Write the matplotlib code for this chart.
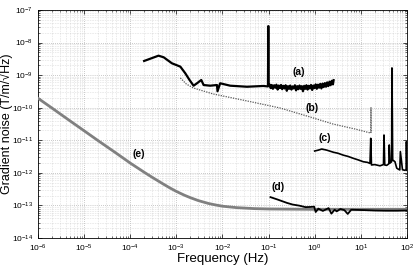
import matplotlib
matplotlib.use("Agg")
import matplotlib.pyplot as plt
from matplotlib.ticker import LogLocator, NullFormatter

plt.rcParams["font.family"] = ["Liberation Sans", "DejaVu Sans"]

# (a) measured noise, low frequency
freq_a = [2.0e-4, 4.1e-4, 5.3e-4, 8.0e-4, 1.22e-3, 1.56e-3, 1.93e-3, 2.36e-3,
          2.8e-3, 3.47e-3, 3.9e-3, 5.4e-3, 7.6e-3, 7.8e-3, 8.9e-3, 1.47e-2,
          3.4e-2, 7.7e-2, 0.097, 0.0985, 0.1,
          0.105, 0.111, 0.117, 0.124, 0.132, 0.140, 0.148, 0.157, 0.166, 0.176,
          0.186, 0.197, 0.209, 0.221, 0.234, 0.248, 0.263, 0.279, 0.295, 0.313,
          0.331, 0.351, 0.372, 0.394, 0.417, 0.442, 0.468, 0.495, 0.525, 0.556,
          0.589, 0.624, 0.661, 0.700, 0.741, 0.785, 0.832, 0.881, 0.933, 0.989,
          1.047, 1.109, 1.175, 1.245, 1.318, 1.396, 1.479, 1.567, 1.660, 1.758,
          1.862, 1.972, 2.089, 2.213, 2.344, 2.483, 2.57]
noise_a = [2.72e-9, 3.95e-9, 3.53e-9, 2.31e-9, 1.82e-9, 1.14e-9, 7.1e-10, 4.74e-10,
           5.62e-10, 7.1e-10, 4.97e-10, 4.74e-10, 4.97e-10, 3.2e-10, 5.62e-10, 4.74e-10,
           4.4e-10, 4.65e-10, 4.5e-10, 3.2e-8, 5.0e-10,
           5.2e-10, 4.0e-10, 5.0e-10, 3.8e-10, 4.9e-10, 4.1e-10, 5.1e-10, 3.6e-10, 4.8e-10, 4.0e-10,
           5.0e-10, 3.7e-10, 4.7e-10, 3.9e-10, 4.9e-10, 3.3e-10, 4.6e-10, 3.8e-10, 4.8e-10, 3.6e-10,
           4.5e-10, 3.9e-10, 4.9e-10, 3.4e-10, 4.6e-10, 3.7e-10, 4.8e-10, 3.8e-10, 4.6e-10, 3.2e-10,
           4.7e-10, 3.8e-10, 4.9e-10, 3.6e-10, 4.7e-10, 3.9e-10, 5.0e-10, 3.5e-10, 4.8e-10, 4.0e-10,
           5.2e-10, 3.8e-10, 5.1e-10, 4.1e-10, 5.4e-10, 3.9e-10, 5.5e-10, 4.3e-10, 5.7e-10, 4.4e-10,
           6.0e-10, 4.6e-10, 6.3e-10, 4.9e-10, 6.7e-10, 5.2e-10, 7.0e-10]

# (b) dotted curve
freq_b = [1.22e-3, 1.64e-3, 2.33e-3, 6.3e-3, 3.43e-2, 0.178, 0.79, 2.5, 7.5, 16.4, 16.6, 16.8]
noise_b = [8.2e-10, 5.35e-10, 4.03e-10, 2.64e-10, 1.61e-10, 9.8e-11, 5.2e-11, 3.16e-11,
           2.22e-11, 1.67e-11, 1.0e-10, 1.67e-11]

# (c) measured noise, high frequency
freq_c = [1.0, 1.2, 1.42, 1.82, 2.54, 3.2, 4.17, 5.3, 6.87, 8.8, 11.3, 14.0, 15.8,
          16.4, 17.0, 20.0, 26.0, 31.0, 31.8, 33.0, 36.3, 40.5, 41.3, 43.0, 46.5,
          47.3, 49.0, 55.0, 60.0, 65.0, 70.0, 72.0, 80.0, 90.0, 96.0, 97.5, 100.0]
noise_c = [4.7e-12, 5.0e-12, 5.4e-12, 5.0e-12, 4.3e-12, 4.0e-12, 3.5e-12, 3.2e-12, 2.8e-12,
           2.5e-12, 2.2e-12, 2.1e-12, 1.95e-12,
           1.15e-11, 1.75e-12, 1.8e-12, 1.65e-12, 1.8e-12, 1.45e-11, 1.75e-12, 1.7e-12, 1.9e-12,
           7.2e-12, 2.0e-12, 2.2e-12,
           1.66e-9, 2.5e-12, 2.2e-12, 1.4e-12, 1.3e-12, 1.23e-12, 4.5e-12, 1.25e-12, 1.2e-12,
           1.25e-12, 9.1e-12, 1.2e-12]

# (d) measured noise, near floor
freq_d = [0.11, 0.157, 0.25, 0.33, 0.46, 0.63, 0.8, 0.97, 1.05, 1.2, 1.5, 2.0, 2.3,
          2.7, 3.0, 3.6, 4.4, 5.2, 6.2, 8.5, 12.0, 20.0, 35.0, 60.0, 100.0]
noise_d = [1.8e-13, 1.52e-13, 1.2e-13, 1.07e-13, 9.9e-14, 8.9e-14, 9.0e-14, 9.2e-14,
           6.3e-14, 8.0e-14, 6.8e-14, 8.3e-14, 5.6e-14, 7.4e-14, 6.6e-14, 7.8e-14, 7.2e-14,
           5.5e-14, 7.4e-14, 7.3e-14, 7.2e-14, 7.0e-14, 6.9e-14, 6.9e-14, 7.0e-14]

# (e) model curve
freq_e = [1e-6, 2e-6, 5e-6, 1e-5, 2e-5, 5e-5, 1e-4, 2e-4, 3e-4, 5e-4, 7e-4, 1e-3,
          1.5e-3, 2e-3, 3e-3, 5e-3, 7e-3, 1e-2, 2e-2, 5e-2, 1e-1, 1.0, 100.0]
noise_e = [1.95e-10, 9.8e-11, 3.9e-11, 1.96e-11, 9.8e-12, 4.0e-12, 2.0e-12, 1.05e-12,
           7.3e-13, 4.7e-13, 3.55e-13, 2.7e-13, 2.06e-13, 1.74e-13, 1.41e-13, 1.15e-13,
           1.04e-13, 9.5e-14, 8.6e-14, 8.0e-14, 7.8e-14, 7.6e-14, 7.6e-14]

labels = ["(a)", "(b)", "(c)", "(d)", "(e)"]
label_pos = [(0.44, 1.26e-9), (0.86, 9.8e-11), (1.68, 1.17e-11), (0.16, 3.7e-13), (1.5e-4, 3.8e-12)]

fig = plt.figure(figsize=(4.15, 2.69), dpi=100)
ax = fig.add_axes([0.0916, 0.115, 0.889, 0.848])

ax.loglog(freq_e, noise_e, color="0.5", lw=2.0, zorder=3)
ax.loglog(freq_b, noise_b, color="0.35", lw=0.9, linestyle=(0, (1, 1)), zorder=3)
ax.loglog(freq_a, noise_a, color="black", lw=1.6, zorder=4)
ax.loglog(freq_c, noise_c, color="black", lw=1.2, zorder=4)
ax.loglog(freq_d, noise_d, color="black", lw=1.3, zorder=4)

for lab, (x, y) in zip(labels, label_pos):
    ax.text(x, y, lab, fontsize=7.5, fontweight="bold", ha="center", va="center")

ax.set_xlim(1e-6, 1e2)
ax.set_ylim(1e-14, 1e-7)
ax.xaxis.set_major_locator(LogLocator(base=10, numticks=20))
ax.yaxis.set_major_locator(LogLocator(base=10, numticks=20))
ax.xaxis.set_minor_locator(LogLocator(base=10, subs=range(2, 10), numticks=100))
ax.yaxis.set_minor_locator(LogLocator(base=10, subs=range(2, 10), numticks=100))
ax.xaxis.set_minor_formatter(NullFormatter())
ax.yaxis.set_minor_formatter(NullFormatter())
ax.grid(True, which="major", color="0.6", linestyle=(0, (1, 2)), lw=0.5)
ax.grid(True, which="minor", color="0.75", linestyle=(0, (1, 2)), lw=0.4)
ax.tick_params(which="both", direction="in", top=True, right=True, labelsize=6)
ax.tick_params(which="major", length=3, width=0.5)
ax.tick_params(which="minor", length=1.5, width=0.4)
for s in ax.spines.values():
    s.set_linewidth(0.6)

ax.set_xlabel("Frequency (Hz)", fontsize=9.5)
ax.set_ylabel("Gradient noise (T/m/\u221aHz)", fontsize=9)
ax.xaxis.set_label_coords(0.5, -0.067)
ax.yaxis.set_label_coords(-0.069, 0.5)

fig.savefig("out.png", dpi=100)
